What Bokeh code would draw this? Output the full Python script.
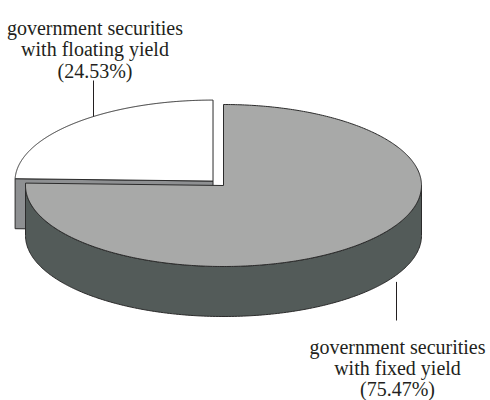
import numpy as np
from bokeh.plotting import figure
from bokeh.models import Range1d
from bokeh.embed import file_html
from bokeh.resources import INLINE
from bokeh.core.properties import value

# ---- data ----
categories = ["government securities with fixed yield",
              "government securities with floating yield"]
shares = [75.47, 24.53]
label_line1 = ["government securities", "government securities"]
label_line2 = ["with fixed yield", "with floating yield"]
top_colors = ["#a8a9a8", "#ffffff"]
side_colors = ["#535b59", "#8e9092"]
explode = [0.0, 0.076]

# ---- layout (page pixel coordinates) ----
cx, cy = 223.0, 185.0
A, B = 198.0, 81.0
DEPTH = 50.0
START = 90.0
OUTLINE = "#2b2b2b"
FONT = "Liberation Serif"

p = figure(width=490, height=400, output_backend="svg", toolbar_location=None,
           x_range=Range1d(0, 490), y_range=Range1d(400, 0),
           x_axis_location=None, y_axis_location=None, min_border=0)
p.grid.visible = False
p.outline_line_color = None
p.background_fill_color = "white"


def ept(theta, ox, oy, dz=0.0):
    t = np.radians(theta)
    return cx + ox + A * np.cos(t), cy + oy - B * np.sin(t) + dz


# slice angle ranges (clockwise from START)
slices = []
s = START
for i, sh in enumerate(shares):
    e = s - sh * 3.6
    m = (s + e) / 2
    ox = A * explode[i] * np.cos(np.radians(m))
    oy = -B * explode[i] * np.sin(np.radians(m))
    slices.append(dict(i=i, s=s, e=e, m=m, ox=ox, oy=oy))
    s = e

# farthest first
order = sorted(slices, key=lambda d: -np.sin(np.radians(d["m"])))

geom = {}
for d in order:
    i, s, e, ox, oy = d["i"], d["s"], d["e"], d["ox"], d["oy"]
    # radial cut faces
    faces = []
    if np.cos(np.radians(s)) < -1e-6:
        faces.append(s)
    if np.cos(np.radians(e)) > 1e-6:
        faces.append(e)
    for f in faces:
        x1, y1 = ept(f, ox, oy)
        xs = [cx + ox, x1, x1, cx + ox]
        ys = [cy + oy, y1, y1 + DEPTH, cy + oy + DEPTH]
        p.patch(xs, ys, fill_color=side_colors[i], line_color=OUTLINE, line_width=1)
    # outer side visible on front half (angles in [-180+360k, 360k])
    lo, hi = e, s
    for k in range(-2, 3):
        a0, a1 = max(lo, -180 + 360 * k), min(hi, 360 * k)
        if a1 - a0 > 1e-6:
            th = np.linspace(a0, a1, 200)
            xt, yt = ept(th, ox, oy)
            xb, yb = ept(th[::-1], ox, oy, DEPTH)
            p.patch(list(xt) + list(xb), list(yt) + list(yb),
                    fill_color=side_colors[i], line_color=OUTLINE, line_width=1)
    # top face
    th = np.linspace(s, e, 400)
    xa, ya = ept(th, ox, oy)
    xs = [cx + ox] + list(xa) + [cx + ox]
    ys = [cy + oy] + list(ya) + [cy + oy]
    p.patch(xs, ys, fill_color=top_colors[i], line_color=OUTLINE, line_width=1)
    geom[i] = (ox, oy)

# ---- labels ----
lab_x = [397.0, 94.5]
lab_base = [346.0, 27.0]
LINE_H = [21.0, 21.5]
for i in range(len(shares)):
    lines = [label_line1[i], label_line2[i], "(%.2f%%)" % shares[i]]
    ys = [lab_base[i] + k * LINE_H[i] for k in range(3)]
    p.text(x=[lab_x[i]] * 3, y=ys, text=lines, text_font=value(FONT),
           text_font_size="20px", text_align="center", text_baseline="alphabetic",
           text_color="#231f20")

# leader lines
# floating (top): from label down to the top edge of its slice
ox, oy = geom[1]
lx = 93.0
th = np.degrees(np.arccos((lx - cx - ox) / A))
_, yedge = ept(th, ox, oy)
p.line([lx, lx], [80.0, yedge], line_color="#231f20", line_width=1)
# fixed (bottom): from bottom edge of side down to label
ox, oy = geom[0]
lx = 396.0
th = -np.degrees(np.arccos((lx - cx - ox) / A))
_, yedge = ept(th, ox, oy, DEPTH)
p.line([lx, lx], [yedge + 7, 320.0], line_color="#231f20", line_width=1)

open("out.html", "w").write(file_html(p, INLINE))
